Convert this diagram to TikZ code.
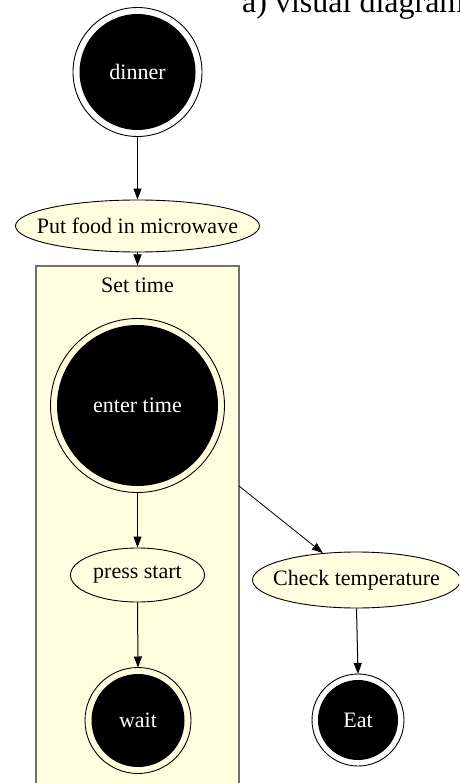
\documentclass[tikz,border=0pt]{standalone}
\usepackage{fontspec}
\setmainfont{Liberation Serif}
\usetikzlibrary{shapes.geometric,arrows.meta}
\definecolor{pale}{HTML}{FFFFE0}
\definecolor{frame}{HTML}{707070}
% text of zero width, so that an ellipse keeps its given size
\newcommand{\nowidth}[1]{\makebox[0pt]{#1}}
\begin{document}
\begin{tikzpicture}[x=1pt,y=-1pt,
  every node/.style={font=\fontsize{22}{26}\selectfont},
  edge/.style={draw=black, line width=1pt, -{Triangle[length=11pt,width=8pt]}},
  act/.style={ellipse, draw=black, line width=0.9pt, fill=pale, inner sep=0pt},
  state/.style={circle, fill=black, text=white, inner sep=0pt, minimum size=#1},
  ring/.style={draw=black, line width=0.9pt}]
\useasboundingbox (0,0) rectangle (459,783);
\clip (0,0) rectangle (459,783);

% heading, partly outside the page
\node[anchor=base west, inner sep=0pt, font=\fontsize{32}{36}\selectfont] (title) at (242,13) {a) visual diagram};

% the "Set time" cluster
\fill[pale] (36,266) rectangle (239,800);
\draw[frame, line width=1.5pt] (36,800) -- (36,266) -- (239,266) -- (239,800);
\node (settime) at (137.5,285) {Set time};
\coordinate (cltop) at (137.5,265.5);
\coordinate (clside) at (239,486);

% states (double circles)
\node[state=116pt, outer sep=6.5pt] (dinner) at (137.5,72) {dinner};
\draw[ring] (dinner.center) circle[radius=64.5];
\node[state=161pt, outer sep=6.5pt] (enter) at (137.5,405.5) {enter time};
\draw[ring] (enter.center) circle[radius=87];
\node[state=93pt, outer sep=6.5pt] (wait) at (138,720.5) {wait};
\draw[ring] (wait.center) circle[radius=53];
\node[state=80pt, outer sep=6pt] (eat) at (358,720) {Eat};
\draw[ring] (eat.center) circle[radius=46];

% activities
\node[act, minimum width=244pt, minimum height=52pt] (put) at (137.5,226) {\nowidth{Put food in microwave}};
\node[act, minimum width=134pt, minimum height=54pt] (press) at (137.5,575) {\nowidth{press start}};
\node[act, minimum width=208pt, minimum height=56pt] (check) at (356.5,580) {\nowidth{Check temperature}};

% connectors
\draw[edge] (dinner.south) -- (put.north);
\draw[edge] (put.south) -- (cltop);
\draw[edge] (enter.south) -- (press.north);
\draw[edge] (press.south) -- (wait.north);
\draw[edge, line width=0.8pt] (clside) -- (check);
\draw[edge] (check.south) -- (eat.north);
\end{tikzpicture}
\end{document}
